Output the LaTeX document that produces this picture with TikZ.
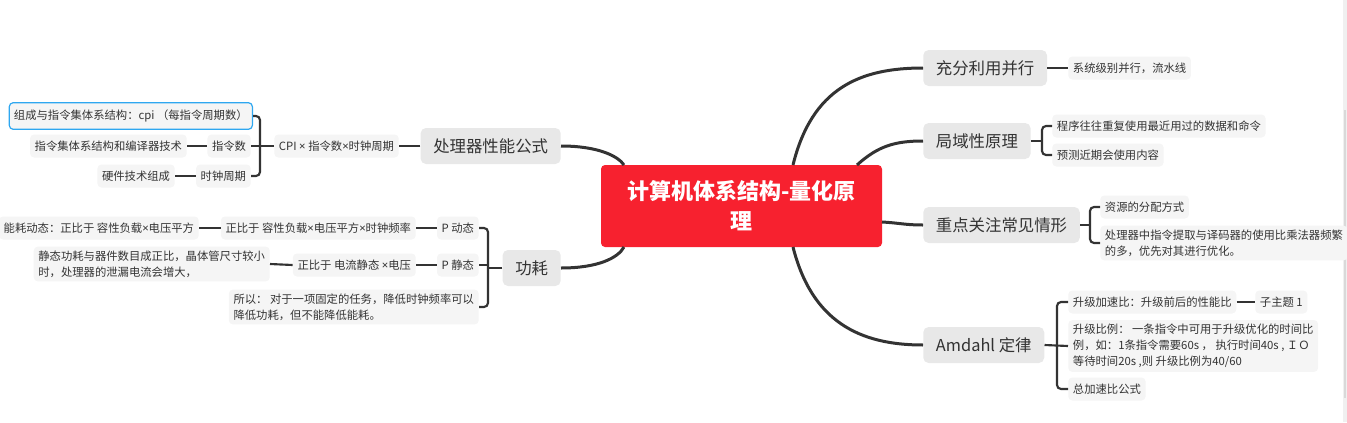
\documentclass[tikz,border=0pt]{standalone}
\usepackage{fontspec}
\setmainfont{Noto Sans CJK SC}
\newfontfamily\latinf{Noto Sans}
\newcommand{\tms}{{\latinf ×}}
\usetikzlibrary{calc}
\definecolor{rootred}{HTML}{F7212F}
\definecolor{mainfill}{HTML}{E8E8E8}
\definecolor{subfill}{HTML}{F5F5F5}
\definecolor{linec}{HTML}{333333}
\definecolor{textc}{HTML}{333333}
\definecolor{selblue}{HTML}{2EA7F0}
\begin{document}
\begin{tikzpicture}[x=0.75pt,y=-0.75pt,
  rootbox/.style={fill=rootred,rounded corners=3pt,text=white,align=center,
    font=\fontsize{16.5}{22.5}\selectfont\bfseries,minimum width=210.75pt,minimum height=61.5pt,inner sep=0pt},
  mainbox/.style={fill=mainfill,rounded corners=4pt,text=textc,
    font=\fontsize{12.3}{15}\selectfont,inner xsep=9.5pt,inner ysep=0pt,minimum height=27pt},
  subbox/.style={fill=subfill,rounded corners=3pt,text=textc,align=left,
    font=\fontsize{8.5}{12}\selectfont,inner xsep=3.5pt,inner ysep=3pt,minimum height=17.25pt},
  mainline/.style={draw=linec,line width=2.25pt},
  subline/.style={draw=linec,line width=1.6pt,rounded corners=3pt}]
\useasboundingbox (0,0) rectangle (1347,422);
% scrollbar
\fill[white!94!black] (1343,0) rectangle (1347,422);
\fill[white!85!black] (1344,110) rectangle (1346,398);

% root
\node[rootbox] (root) at (741.5,206) {计算机体系结构-量化原\\理};
\coordinate (r1) at (793,165);
\coordinate (r2) at (857,165);
\coordinate (r3) at (882,222);
\coordinate (r4) at (793,247);
\coordinate (r5) at (624,165);
\coordinate (r6) at (624,247);

% main topics
\node[mainbox,anchor=west] (par) at (923,68) {充分利用并行};
\node[mainbox,anchor=west] (loc) at (923,141) {局域性原理};
\node[mainbox,anchor=west] (foc) at (923,225) {重点关注常见情形};
\node[mainbox,anchor=west] (amd) at (923,345) {Amdahl 定律};
\node[mainbox,anchor=east] (proc) at (561,146) {处理器性能公式};
\node[mainbox,anchor=east] (gh) at (561,268) {功耗};

% right sub items
\node[subbox,anchor=west] (p1) at (1068,68) {系统级别并行，流水线};
\node[subbox,anchor=west] (l1) at (1052,126) {程序往往重复使用最近用过的数据和命令};
\node[subbox,anchor=west] (l2) at (1052,155) {预测近期会使用内容};
\node[subbox,anchor=west] (f1) at (1100,207) {资源的分配方式};
\node[subbox,anchor=west] (f2) at (1100,243) {处理器中指令提取与译码器的使用比乘法器频繁\\的多，优先对其进行优化。};
\node[subbox,anchor=west] (a1) at (1068,302) {升级加速比：升级前后的性能比};
\node[subbox,anchor=west] (a1b) at (1255,302) {子主题 1};
\node[subbox,anchor=west] (a2) at (1068,346) {升级比例： 一条指令中可用于升级优化的时间比\\例，如：1条指令需要60s ， 执行时间40s , ＩＯ\\等待时间20s ,则 升级比例为40/60};
\node[subbox,anchor=west] (a3) at (1068,389) {总加速比公式};

% left sub items
\node[subbox,anchor=east] (cpi) at (399,146) {CPI \tms{} 指令数\tms{}时钟周期};
\node[subbox,anchor=east,draw=selblue,line width=0.9pt,minimum height=20pt] (c1) at (253,116) {组成与指令集体系结构：cpi （每指令周期数）};
\node[subbox,anchor=east] (c2) at (251,146) {指令数};
\node[subbox,anchor=east] (c2b) at (187,146) {指令集体系结构和编译器技术};
\node[subbox,anchor=east] (c3) at (251,176) {时钟周期};
\node[subbox,anchor=east] (c3b) at (175,176) {硬件技术组成};
\node[subbox,anchor=east] (pd) at (479,228) {P 动态};
\node[subbox,anchor=east] (pd2) at (416,228) {正比于 容性负载\tms{}电压平方\tms{}时钟频率};
\node[subbox,anchor=east] (pd3) at (199,228) {能耗动态：正比于 容性负载\tms{}电压平方};
\node[subbox,anchor=east] (ps) at (479,265) {P 静态};
\node[subbox,anchor=east] (ps2) at (416,265) {正比于 电流静态 \tms{}电压};
\node[subbox,anchor=east] (ps3) at (270,264) {静态功耗与器件数目成正比，晶体管尺寸较小\\时，处理器的泄漏电流会增大，};
\node[subbox,anchor=east] (so) at (479,307) {所以： 对于一项固定的任务，降低时钟频率可以\\降低功耗，但不能降低能耗。};

% main connectors
\draw[mainline] (r1) .. controls (812,88) and (860,68) .. (par.west);
\draw[mainline] (r2) .. controls (878,146) and (895,141) .. (loc.west);
\draw[mainline] (r3) .. controls (900,223) and (905,225) .. (foc.west);
\draw[mainline] (r4) .. controls (812,322) and (860,345) .. (amd.west);
\draw[mainline] (proc.east) .. controls (598,146) and (618,156) .. (r5);
\draw[mainline] (gh.east) .. controls (598,268) and (618,258) .. (r6);

% bracket coordinates
\coordinate (bL) at (1042,141);
\coordinate (bF) at (1090,225);
\coordinate (bA) at (1057,345);
\coordinate (bC) at (260,146);
\coordinate (bG) at (488,268);

% right sub connectors
\draw[subline] (par.east) -- (p1.west);
\draw[subline] (loc.east) -- (bL);
\draw[subline] (l1.west) -| (bL) |- (l2.west);
\draw[subline] (foc.east) -- (bF);
\draw[subline] (f1.west) -| (bF) |- (f2.west);
\draw[subline] (amd.east) -- (a2.west);
\draw[subline] (a1.west) -| (bA) |- (a3.west);
\draw[subline] (a1.east) -- (a1b.west);

% left sub connectors
\draw[subline] (proc.west) -- (cpi.east);
\draw[subline] (cpi.west) -- (c2.east);
\draw[subline] (c1.east) -| (bC) |- (c3.east);
\draw[subline] (c2.west) -- (c2b.east);
\draw[subline] (c3.west) -- (c3b.east);
\draw[subline] (gh.west) -- (bG);
\draw[subline] (pd.east) -| (bG) |- (so.east);
\draw[subline] (ps.east) -- (ps.east -| bG);
\draw[subline] (pd.west) -- (pd2.east);
\draw[subline] (pd2.west) -- (pd3.east);
\draw[subline] (ps.west) -- (ps2.east);
\draw[subline] (ps2.west) -- (ps3.east);
\end{tikzpicture}
\end{document}
